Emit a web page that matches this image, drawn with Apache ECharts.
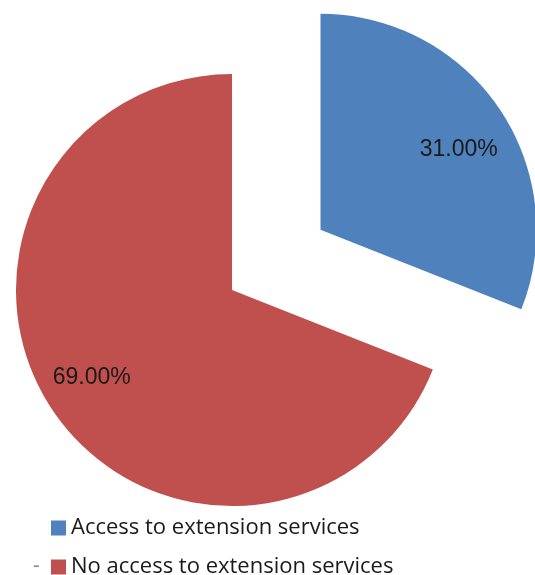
<!DOCTYPE html>
<html>
<head>
<meta charset="utf-8">
<script src="https://cdn.jsdelivr.net/npm/echarts@6/dist/echarts.min.js"></script>
<style>html,body{margin:0;padding:0;background:#fff;}#c{width:535px;height:575px;}</style>
</head>
<body>
<div id="c"></div>
<script>
var categories = ['Access to extension services', 'No access to extension services'];
var values = [31, 69];
var colors = ['#4F81BD', '#C0504D'];

var chart = echarts.init(document.getElementById('c'), null, {renderer: 'canvas'});
var center = [232, 290];
var R = 216;
var offset = 107;
var labelNudge = [[0, 14], [-2, -6]];

function mkData(showColor) {
  return categories.map(function (n, i) {
    var d = {
      name: n,
      value: values[i],
      selected: i === 0,
      itemStyle: showColor ? {color: colors[i]} : {color: 'rgba(0,0,0,0)'}
    };
    if (!showColor) {
      d.label = {offset: labelNudge[i]};
      d.select = {label: {offset: labelNudge[i]}, itemStyle: {color: 'rgba(0,0,0,0)'}};
    }
    return d;
  });
}

chart.setOption({
  animation: false,
  color: colors,
  legend: {
    orient: 'vertical',
    left: 46,
    top: 512,
    height: 120,
    itemWidth: 15,
    itemHeight: 15,
    itemGap: 17,
    icon: 'rect',
    data: categories,
    textStyle: {fontFamily: 'Open Sans', fontSize: 22, color: '#1a1a1a'},
    selectedMode: false
  },
  graphic: [{
    type: 'text', left: 33, top: 556,
    style: {text: '-', fontSize: 20, fill: '#888', fontFamily: 'Liberation Sans'}
  }],
  series: [{
    type: 'pie',
    center: center,
    radius: R,
    startAngle: 90,
    clockwise: true,
    selectedMode: 'multiple',
    selectedOffset: offset,
    label: {show: false},
    labelLine: {show: false},
    emphasis: {disabled: true},
    data: mkData(true)
  }, {
    type: 'pie',
    center: center,
    radius: R * 1.52,
    startAngle: 90,
    clockwise: true,
    selectedMode: 'multiple',
    selectedOffset: offset,
    silent: true,
    legendHoverLink: false,
    label: {
      show: true,
      position: 'inside',
      formatter: function (p) { return p.value.toFixed(2) + '%'; },
      fontFamily: 'Liberation Sans',
      fontSize: 23,
      color: '#1a1a1a'
    },
    labelLine: {show: false},
    emphasis: {disabled: true},
    data: mkData(false)
  }]
});
</script>
</body>
</html>
